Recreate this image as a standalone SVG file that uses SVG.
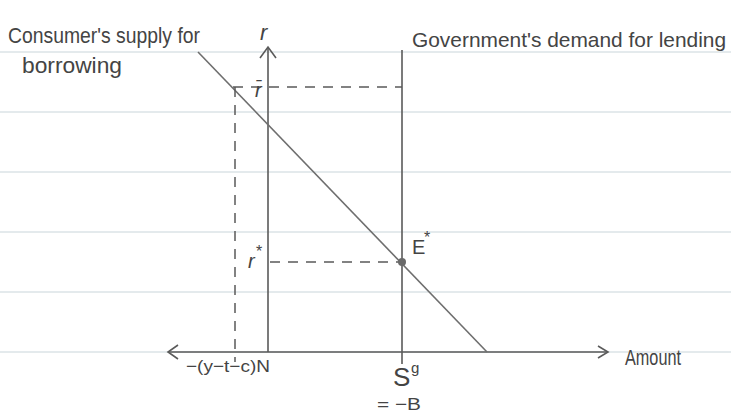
<svg xmlns="http://www.w3.org/2000/svg" width="731" height="415" viewBox="0 0 731 415">
<style>
.rule{stroke:#c9d5da;stroke-width:1}
.ln{stroke:#5a5a5a;stroke-width:1.6;fill:none}
.sup{stroke:#6e6e6e;stroke-width:1.6;fill:none}
.dash{stroke:#5a5a5a;stroke-width:1.5;fill:none;stroke-dasharray:10 8}
.t{font-family:"Liberation Sans Narrow","Liberation Sans",sans-serif;fill:#444}
</style>
<rect width="731" height="415" fill="#ffffff"/>
<g id="paper">
<line class="rule" x1="0" y1="52" x2="731" y2="52"/>
<line class="rule" x1="0" y1="112" x2="731" y2="112"/>
<line class="rule" x1="0" y1="172" x2="731" y2="172"/>
<line class="rule" x1="0" y1="232" x2="731" y2="232"/>
<line class="rule" x1="0" y1="292" x2="731" y2="292"/>
<line class="rule" x1="0" y1="352" x2="731" y2="352"/>
</g>
<g id="axes">
<line class="ln" x1="268" y1="352" x2="268" y2="47"/>
<polyline class="ln" points="260,58 268,47 276,58"/>
<line class="ln" x1="168" y1="352" x2="608" y2="352"/>
<polyline class="ln" points="178,345 168,352 178,359"/>
<polyline class="ln" points="598,346 608,352 598,358"/>
</g>
<g id="connectors">
<line class="ln" x1="402" y1="50" x2="402" y2="364"/>
<line class="sup" x1="198" y1="52" x2="487" y2="352"/>
<line class="dash" x1="233" y1="87" x2="402" y2="87"/>
<line class="dash" x1="235" y1="87" x2="235" y2="362"/>
<line class="dash" x1="270" y1="262" x2="400" y2="262"/>
</g>
<g id="E-star">
<circle cx="402" cy="262" r="4" fill="#6a6a6a"/>
<text class="t" x="412" y="254" font-size="20">E</text>
<text class="t" x="424" y="243" font-size="16">*</text>
</g>
<g id="labels">
<text class="t" x="8" y="43" font-size="22" textLength="192" lengthAdjust="spacingAndGlyphs">Consumer's supply for</text>
<text class="t" x="22" y="73" font-size="22" textLength="100" lengthAdjust="spacingAndGlyphs">borrowing</text>
<text class="t" x="412" y="47" font-size="21" textLength="314" lengthAdjust="spacingAndGlyphs">Government's demand for lending</text>
<text class="t" x="260" y="40" font-size="22" font-style="italic">r</text>
<text class="t" x="255" y="97" font-size="20" font-style="italic">r̄</text>
<text class="t" x="248" y="268" font-size="20" font-style="italic">r</text>
<text class="t" x="256" y="257" font-size="16">*</text>
<text class="t" x="186" y="372" font-size="17" textLength="84" lengthAdjust="spacingAndGlyphs">−(y−t−c)N</text>
<text class="t" x="393" y="386" font-size="26">S</text>
<text class="t" x="411" y="373" font-size="15">g</text>
<text class="t" x="377" y="410" font-size="17" textLength="44" lengthAdjust="spacingAndGlyphs">= −B</text>
<text class="t" x="625" y="365" font-size="22" textLength="56" lengthAdjust="spacingAndGlyphs">Amount</text>
</g>
</svg>
